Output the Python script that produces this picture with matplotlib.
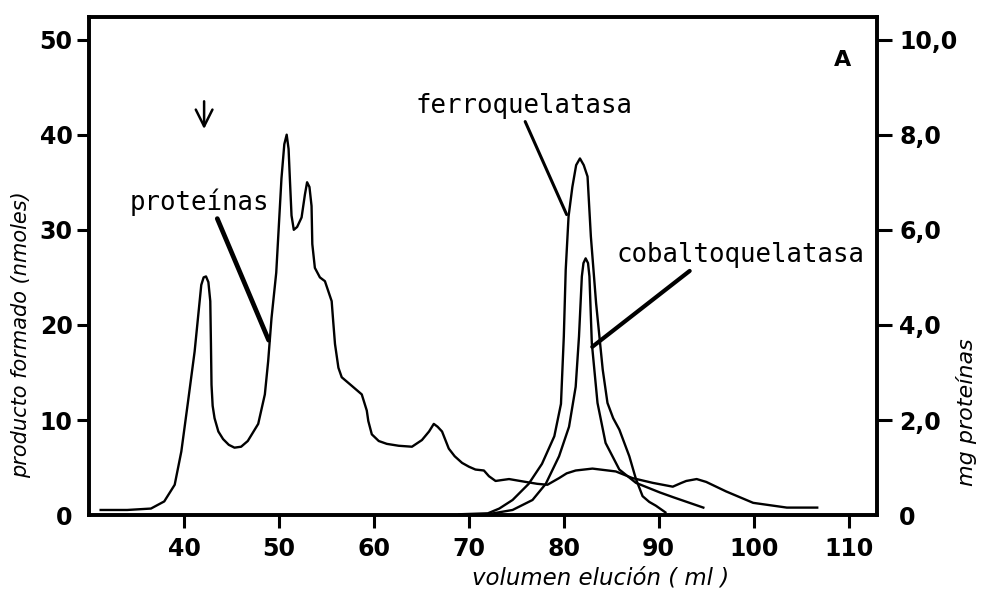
import matplotlib
matplotlib.use('Agg')
import matplotlib.pyplot as plt
from matplotlib.ticker import FuncFormatter

# protein elution profile (mg proteinas, right axis)
prot_x = [31.2, 34.0, 36.5, 37.9, 39.0, 39.7, 40.4, 41.1, 41.8, 42.05, 42.3, 42.55, 42.75,
          42.82, 42.88, 43.0, 43.2, 43.6, 44.1, 44.7, 45.3, 46.0, 46.7, 47.8, 48.5, 48.85,
          49.2, 49.7, 50.25, 50.55, 50.8, 51.0, 51.13, 51.31, 51.55, 51.9, 52.37, 52.72,
          52.95, 53.2, 53.42, 53.5, 53.77, 54.3, 54.83, 55.54, 55.7, 55.89, 56.25, 56.6,
          57.66, 58.71, 59.24, 59.4, 59.77, 60.5, 61.35, 62.6, 64.0, 65.05, 65.8, 66.3,
          66.7, 67.17, 67.88, 68.5, 69.28, 70.0, 70.69, 71.58, 72.11, 72.81, 73.5, 74.23,
          75.98, 77.2, 78.27, 79.5, 80.3, 81.25, 83.02, 85.48, 87.24, 89.37, 91.48, 92.4,
          92.9, 94.0, 95.0, 97.1, 99.95, 103.5, 106.7]
prot_mg = [0.11, 0.11, 0.14, 0.29, 0.64, 1.34, 2.38, 3.44, 4.84, 5.00, 5.02, 4.90, 4.50,
           3.60, 2.74, 2.30, 2.04, 1.76, 1.60, 1.48, 1.42, 1.44, 1.56, 1.92, 2.54, 3.24,
           4.14, 5.10, 7.08, 7.80, 8.00, 7.70, 7.10, 6.30, 6.00, 6.06, 6.26, 6.74,
           7.00, 6.90, 6.50, 5.70, 5.20, 5.00, 4.92, 4.50, 4.08, 3.60, 3.10, 2.90,
           2.72, 2.54, 2.20, 1.98, 1.70, 1.56, 1.50, 1.46, 1.44, 1.58, 1.76, 1.92,
           1.86, 1.76, 1.40, 1.24, 1.10, 1.02, 0.96, 0.94, 0.82, 0.72, 0.74, 0.76,
           0.70, 0.66, 0.64, 0.78, 0.88, 0.94, 0.98, 0.92, 0.78, 0.68, 0.60, 0.68,
           0.72, 0.76, 0.70, 0.50, 0.26, 0.16, 0.16]

# ferroquelatasa activity (nmoles, left axis)
ferro_x = [69.0, 72.0, 73.2, 74.6, 76.3, 77.7, 79.0, 79.7, 80.0, 80.2, 80.5, 80.9, 81.3,
           81.7, 82.1, 82.5, 82.85, 83.4, 84.1, 84.6, 85.2, 85.85, 86.9, 87.6, 88.3,
           89.0, 89.7, 90.7]
ferro_y = [0.1, 0.2, 0.7, 1.6, 3.3, 5.4, 8.3, 11.7, 18.8, 25.8, 31.4, 34.5, 36.8,
           37.5, 36.8, 35.6, 29.3, 22.3, 15.3, 11.8, 10.2, 9.0, 6.2, 3.8, 2.0,
           1.4, 1.0, 0.3]

# cobaltoquelatasa activity (nmoles, left axis)
cobalt_x = [72.0, 74.6, 76.7, 78.1, 79.5, 80.55, 81.25, 81.6, 81.9, 82.07, 82.3, 82.55,
            82.7, 82.95, 83.55, 84.4, 85.85, 87.6, 90.1, 91.5, 94.7]
cobalt_y = [0.1, 0.55, 1.6, 3.3, 6.2, 9.3, 13.5, 18.8, 25.1, 26.5, 27.0, 26.5,
            25.1, 18.1, 11.8, 7.6, 4.8, 3.4, 2.4, 1.9, 0.8]

x_ticks = [40, 50, 60, 70, 80, 90, 100, 110]
left_ticks = [0, 10, 20, 30, 40, 50]
right_ticks = [0, 2, 4, 6, 8, 10]

mono = 'DejaVu Sans Mono'
line_kw = dict(color='black', lw=1.7, solid_joinstyle='round')

fig = plt.figure(figsize=(9.81, 5.97), dpi=100)
ax = fig.add_axes([0.091, 0.137, 0.803, 0.835])
ax2 = ax.twinx()

ax.plot(ferro_x, ferro_y, **line_kw)
ax.plot(cobalt_x, cobalt_y, **line_kw)
ax2.plot(prot_x, prot_mg, **line_kw)

ax.set_xlim(30, 113)
ax.set_ylim(0, 52.4)
ax2.set_ylim(0, 52.4 / 5)

ax.set_xticks(x_ticks)
ax.set_yticks(left_ticks)
ax2.set_yticks(right_ticks)
ax2.yaxis.set_major_formatter(FuncFormatter(
    lambda v, p: '0' if v == 0 else f'{v:.1f}'.replace('.', ',')))

for a in (ax, ax2):
    for s in a.spines.values():
        s.set_linewidth(2.6)
ax.tick_params(axis='y', direction='out', length=9, width=2.2, pad=3)
ax.tick_params(axis='x', direction='out', length=9, width=2.2, pad=7)
ax2.tick_params(axis='y', direction='out', length=11, width=2.2, pad=5)
ax.yaxis.get_major_ticks()[0].tick1line.set_visible(False)
ax2.yaxis.get_major_ticks()[0].tick2line.set_visible(False)
for lab in ax.get_xticklabels() + ax.get_yticklabels() + ax2.get_yticklabels():
    lab.set_fontsize(17)
    lab.set_fontweight('bold')

# labels and leader lines
ax.annotate('', xy=(42.1, 40.3), xytext=(42.1, 43.8),
            arrowprops=dict(arrowstyle='->', lw=1.8, color='black',
                            mutation_scale=30))
ax.text(109.4, 47.8, 'A', fontsize=16, fontweight='bold', ha='center', va='center')

ax.annotate('proteínas', xy=(48.9, 18.4), xytext=(41.6, 32.1),
            fontsize=18.5, family=mono, ha='center', va='baseline',
            arrowprops=dict(arrowstyle='-', lw=3.4, color='black',
                            shrinkA=0, shrinkB=0, relpos=(0.62, 0.0)))
ax.annotate('ferroquelatasa', xy=(80.3, 31.6), xytext=(75.8, 42.3),
            fontsize=18.5, family=mono, ha='center', va='baseline',
            arrowprops=dict(arrowstyle='-', lw=2.2, color='black',
                            shrinkA=0, shrinkB=0, relpos=(0.5, 0.0)))
ax.annotate('cobaltoquelatasa', xy=(83.0, 17.7), xytext=(98.6, 26.6),
            fontsize=18.5, family=mono, ha='center', va='baseline',
            arrowprops=dict(arrowstyle='-', lw=3.0, color='black',
                            shrinkA=0, shrinkB=0, relpos=(0.31, 0.0)))

fig.text(0.021, 0.44, 'producto formado (nmoles)', rotation=90, ha='center',
         va='center', fontsize=15, style='italic')
fig.text(0.985, 0.31, 'mg proteínas', rotation=90, ha='center', va='center',
         fontsize=16, style='italic')
fig.text(0.612, 0.032, 'volumen elución ( ml )', ha='center', va='center',
         fontsize=16.5, style='italic')

fig.savefig('out.png', dpi=100)
